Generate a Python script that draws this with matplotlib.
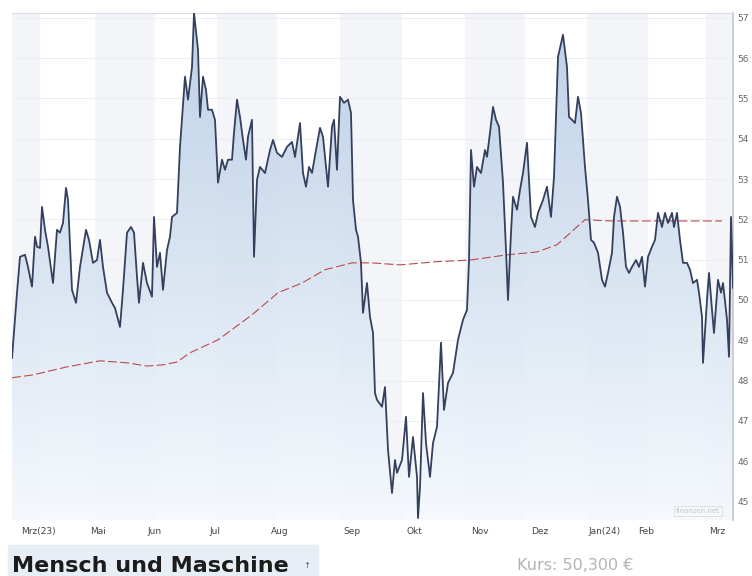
import numpy as np
import matplotlib.pyplot as plt
from matplotlib.patches import PathPatch, Rectangle

# Kursverlauf (x = Position in Tagen ab Start, y = Kurs in EUR)
days = [0, 2.5, 4, 6.5, 8, 10, 11.5, 12.5, 14, 15, 16.5, 18, 20.5, 22.5, 24, 25.5, 27, 28,
        30, 32, 34, 37, 38.5, 40.5, 42.5, 44, 45.5, 47.5, 50, 51.5, 54, 55.5, 57.5, 59.5,
        61, 62.5, 63.5, 65.5, 67.5, 70, 71, 72.5, 74, 75.5, 77.5, 79, 80, 82.5, 84, 86.5,
        88, 90, 91, 93, 94, 95.5, 97, 98, 100, 101.5, 103, 105, 106.5, 108, 110, 111,
        112.5, 114, 115.5, 117, 118, 120, 121, 122.5, 124, 126.5, 129, 130.5, 132.5, 135,
        137.5, 140, 141.5, 144, 145.5, 147, 148.5, 150, 152, 154, 155.5, 158, 160, 161,
        162.5, 164, 166, 168, 169.5, 170.5, 172, 173, 174.5, 175.5, 177.5, 179, 180.5,
        181.5, 182.5, 185, 186.5, 188, 190, 191.5, 192.5, 195, 197, 198.5, 200.5, 202.5,
        203, 204, 205.5, 207, 209, 210.5, 212.5, 214.5, 216, 218, 220.5, 223, 225.5, 227.5,
        228.5, 229.5, 231, 232.5, 234.5, 236.5, 237.5, 239, 240.5, 242, 243.5, 245.5, 247,
        248, 249.5, 250.5, 252.5, 254, 255.5, 257.5, 259.5, 261.5, 263, 265.5, 267.5,
        269.5, 271, 273, 275.5, 277.5, 278.5, 280, 281.5, 283, 284.5, 286.5, 288, 289.5,
        291, 293, 295, 296.5, 298, 300, 301, 302.5, 304, 305.5, 307, 308.5, 310, 312,
        313.5, 315, 316.5, 318, 320, 321.5, 323, 325, 326.5, 328, 330, 331, 332.5, 334,
        335.5, 337.5, 339, 340.5, 342.5, 343.5, 345, 345.5, 347.5, 348.5, 350, 351, 353,
        354.5, 355.5, 357.5, 358.5, 359.5, 360.5]
prices = [48.56, 50.18, 51.07, 51.12, 50.82, 50.33, 51.57, 51.32, 51.29, 52.31, 51.74, 51.32,
          50.42, 51.74, 51.67, 51.91, 52.78, 52.48, 50.25, 49.93, 50.82, 51.74, 51.49, 50.92,
          50.99, 51.49, 50.82, 50.18, 49.93, 49.80, 49.33, 50.25, 51.67, 51.81, 51.67, 50.57,
          49.93, 50.92, 50.42, 50.08, 52.06, 50.82, 51.17, 50.25, 51.24, 51.57, 52.06, 52.16,
          53.80, 55.54, 54.97, 55.78, 57.12, 56.21, 54.54, 55.54, 55.21, 54.72, 54.72, 54.47,
          52.91, 53.48, 53.23, 53.48, 53.48, 54.15, 54.97, 54.54, 53.97, 53.48, 54.05, 54.47,
          51.07, 52.98, 53.30, 53.15, 53.72, 53.97, 53.65, 53.55, 53.80, 53.92, 53.55, 54.39,
          53.15, 52.81, 53.30, 53.15, 53.72, 54.27, 54.05, 52.81, 54.30, 54.47, 53.23, 55.04,
          54.89, 54.97, 54.64, 52.48, 51.74, 51.57, 50.92, 49.68, 50.42, 49.58, 49.18, 47.69,
          47.52, 47.35, 47.84, 46.28, 45.21, 46.03, 45.71, 46.03, 47.10, 45.61, 46.60, 45.61,
          44.59, 45.36, 47.69, 46.45, 45.61, 46.45, 46.85, 48.94, 47.27, 47.94, 48.19, 49.01,
          49.51, 49.75, 50.99, 53.72, 52.81, 53.30, 53.15, 53.72, 53.55, 54.15, 54.79, 54.47,
          54.30, 52.91, 51.24, 50.00, 51.67, 52.56, 52.24, 52.73, 53.15, 53.90, 52.06, 51.81,
          52.16, 52.48, 52.81, 52.06, 53.05, 56.03, 56.58, 55.78, 54.54, 54.47, 54.39, 55.04,
          54.64, 53.30, 52.48, 51.49, 51.42, 51.17, 50.50, 50.33, 50.67, 51.17, 52.06, 52.56,
          52.31, 51.67, 50.82, 50.67, 50.82, 50.99, 50.82, 51.07, 50.33, 51.07, 51.32, 51.49,
          52.16, 51.81, 52.16, 51.91, 52.16, 51.81, 52.16, 51.49, 50.92, 50.92, 50.75, 50.42,
          50.50, 50.18, 49.58, 48.44, 50.00, 50.67, 49.75, 49.18, 50.50, 50.18, 50.42, 49.51,
          48.59, 52.06, 50.30]

# gleitender Durchschnitt
ma_days = [0, 10.5, 27.5, 44, 57.5, 67.5, 75.5, 82.5, 89, 103, 120, 133, 145, 156.5, 170,
           180, 194, 212.5, 229, 247.5, 262.5, 272.5, 286.5, 300, 355]
ma_vals = [48.07, 48.14, 48.34, 48.49, 48.44, 48.36, 48.39, 48.46, 48.69, 49.01, 49.63, 50.18,
           50.42, 50.75, 50.92, 50.92, 50.87, 50.95, 50.99, 51.12, 51.19, 51.37, 51.99, 51.96,
           51.96]

month_edges = [0, 14, 41.5, 71.5, 102.5, 132.5, 164, 195, 226.5, 256.5, 287.5, 318, 347, 360.5]
tick_pos = [13, 43, 71.5, 101.5, 134, 170, 201, 234, 264, 296.5, 317, 352.5]
tick_labels = ["Mrz(23)", "Mai", "Jun", "Jul", "Aug", "Sep", "Okt", "Nov", "Dez",
               "Jan(24)", "Feb", "Mrz"]
y_ticks = [57, 56, 55, 54, 53, 52, 51, 50, 49, 48, 47, 46, 45]

fig = plt.figure(figsize=(7.52, 5.76), dpi=100)
ax = fig.add_axes([12 / 752, 1 - 520 / 576, 721 / 752, 507 / 576])
ymin, ymax = 44.54, 57.12
ax.set_xlim(0, 360.5)
ax.set_ylim(ymin, ymax)

# Monatsstreifen
for i in range(len(month_edges) - 1):
    if i % 2 == 0:
        ax.axvspan(month_edges[i], month_edges[i + 1], color='#f3f5f9', lw=0, zorder=0)

ax.set_axisbelow(True)
ax.yaxis.grid(True, color='#eceef3', lw=0.7)

# Verlaufsfuellung unter der Kurve
top = np.array([0.72, 0.80, 0.90])
bottom = np.array([0.96, 0.975, 0.99])
t = np.linspace(0, 1, 256)[:, None, None]
grad = bottom + (top - bottom) * t
im = ax.imshow(grad, extent=[0, 360.5, ymin, ymax], aspect='auto', origin='lower',
               zorder=1, alpha=0.9)
poly = ax.fill_between(days, prices, ymin, facecolor='none', edgecolor='none')
clip = PathPatch(poly.get_paths()[0], transform=ax.transData, facecolor='none', edgecolor='none')
ax.add_patch(clip)
im.set_clip_path(clip)

ax.plot(ma_days, ma_vals, color='#b84a4a', lw=0.8, dashes=(8, 3), zorder=2)
ax.plot(days, prices, color='#35405e', lw=1.3, zorder=3)

ax.set_xticks(tick_pos)
ax.set_xticklabels(tick_labels)
ax.tick_params(axis='x', length=0, pad=5, labelsize=6.5, labelcolor='#444444')
ax.yaxis.tick_right()
ax.set_yticks(y_ticks)
ax.set_yticklabels([str(v) for v in y_ticks])
ax.tick_params(axis='y', length=0, pad=3, labelsize=6.5, labelcolor='#666666')

for s in ['left', 'bottom']:
    ax.spines[s].set_visible(False)
ax.spines['top'].set_color('#d9dce4')
ax.spines['right'].set_color('#c3c7d1')
ax.spines['right'].set_linewidth(1.2)

ax.text(0.951, 0.018, "finanzen.net", transform=ax.transAxes, fontsize=5, color='#c5c5c5',
        ha='center', va='center',
        bbox=dict(boxstyle='square,pad=0.3', facecolor='none', edgecolor='#dcdcdc', lw=0.6))

# Kopfzeile unten
fig.patches.append(Rectangle((8 / 752, 1 - 578 / 576), 310 / 752, 33 / 576,
                             transform=fig.transFigure, color='#e8eef5', zorder=0))
fig.text(12 / 752, 1 - 566 / 576, "Mensch und Maschine", fontsize=16, weight='bold',
         color='#1c1c1c', va='center')
fig.text(303 / 752, 1 - 566 / 576, "↑", fontsize=6, color='#555555', va='center')
fig.text(517 / 752, 1 - 565 / 576, "Kurs: 50,300 €", fontsize=11.5, color='#b3b3b3',
         va='center')

fig.savefig('out.png', dpi=100)
